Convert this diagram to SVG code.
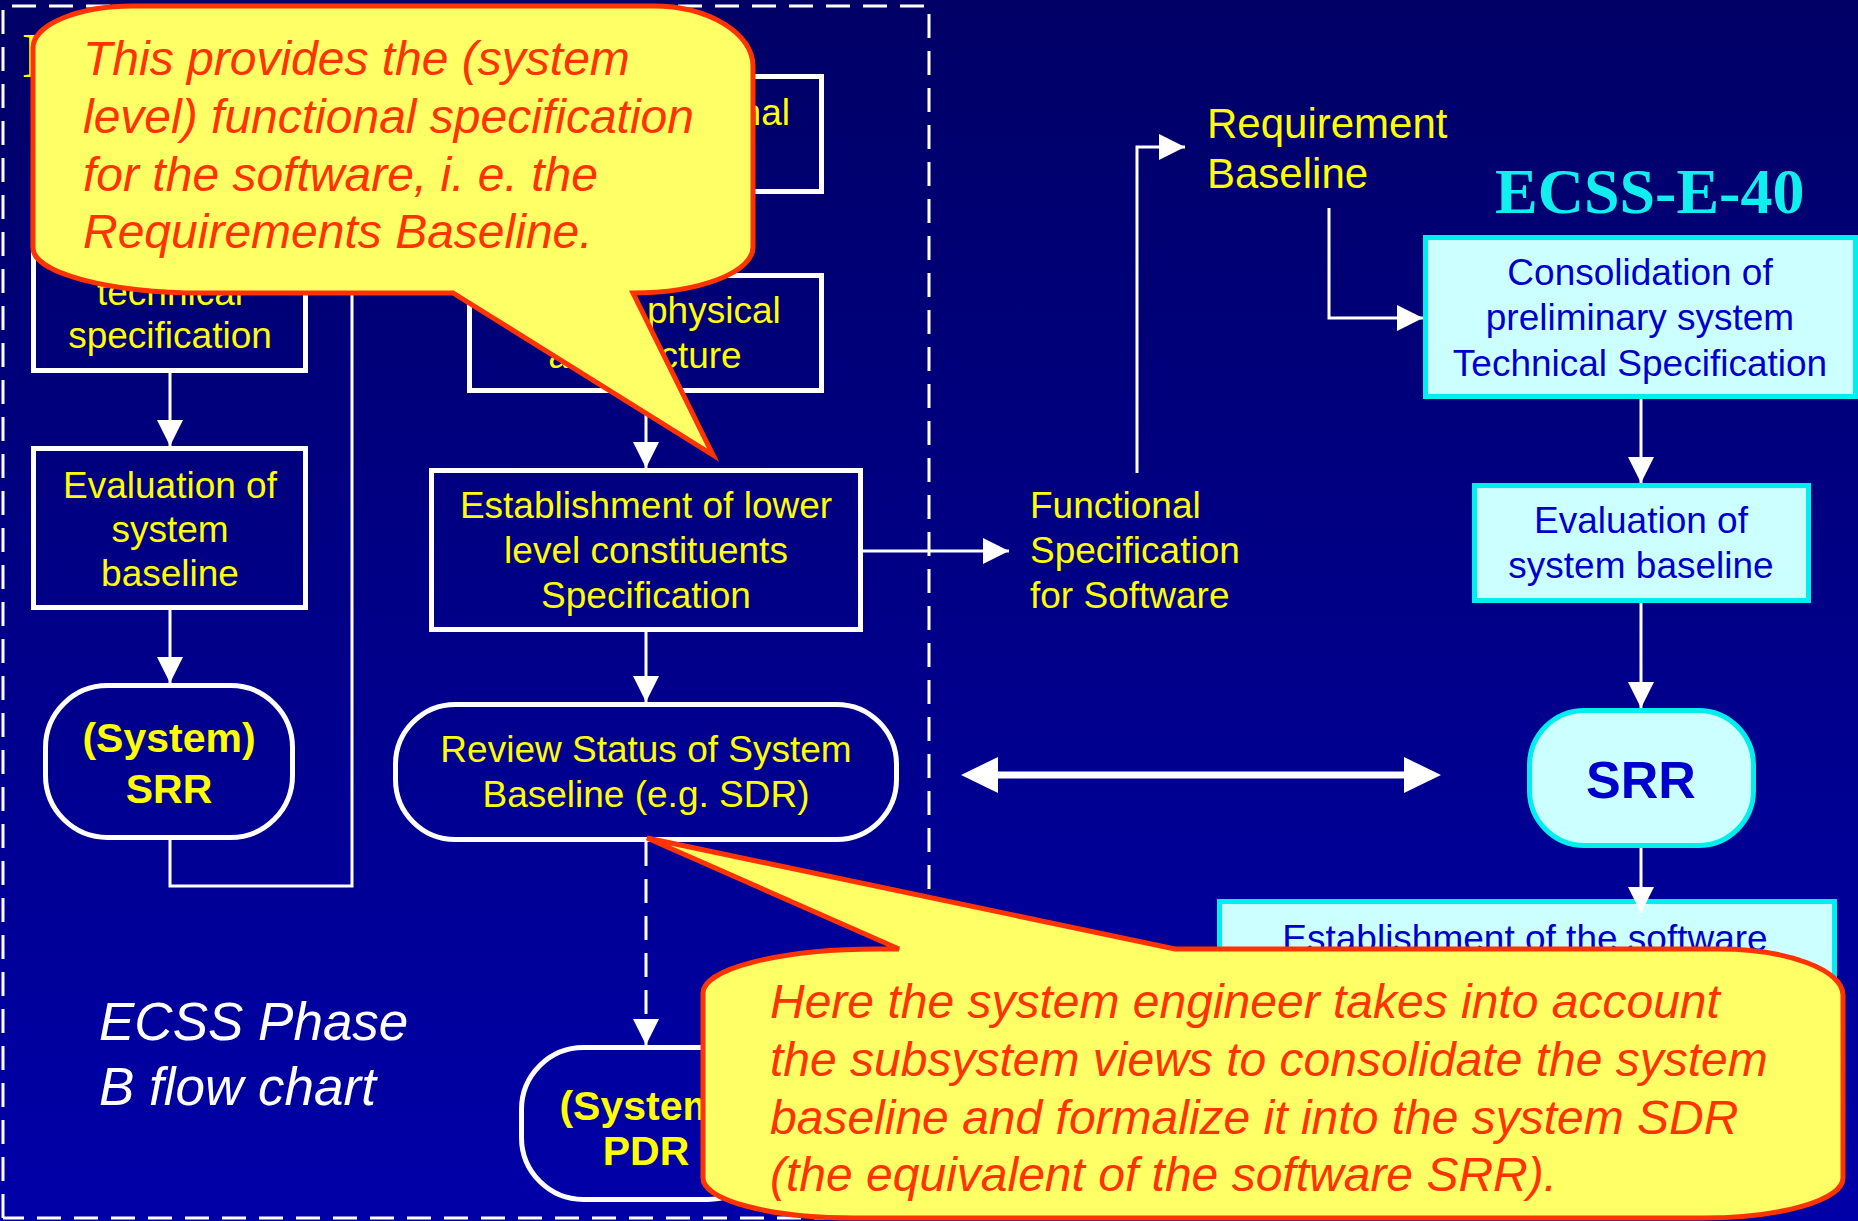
<svg xmlns="http://www.w3.org/2000/svg" width="1858" height="1221" viewBox="0 0 1858 1221">
<defs>
<linearGradient id="bg" x1="0" y1="0" x2="0" y2="1">
<stop offset="0" stop-color="#000066"/>
<stop offset="1" stop-color="#0000A8"/>
</linearGradient>
<marker id="ah" markerUnits="userSpaceOnUse" markerWidth="26" markerHeight="26" viewBox="0 0 26 26" refX="26" refY="13" orient="auto"><path d="M0,0 L26,13 L0,26 Z" fill="#ffffff"/></marker>
<style>
.box{fill:none;stroke:#ffffff;stroke-width:5}
.cbox{fill:#CCFFFF;stroke:#00EEEE;stroke-width:5}
.t{font-family:"Liberation Sans",Arial,sans-serif;font-size:37px;fill:#FFFF00;text-anchor:middle}
.s{text-anchor:start}
.e{text-anchor:end}
.b{font-weight:bold;font-size:41px}
.big{font-size:42px}
.srr{font-size:52px;font-weight:bold}
.blue{fill:#0000CC}
.call{fill:#FFFF66;stroke:#FF3300;stroke-width:5;stroke-linejoin:miter}
.ct{font-family:"Liberation Sans",Arial,sans-serif;font-size:48px;font-style:italic;fill:#FF3300}
.ln{stroke:#ffffff;stroke-width:3;fill:none}
.arr{marker-end:url(#ah)}
</style>
</defs>
<rect x="0" y="0" width="1858" height="1221" fill="url(#bg)"/>
<text x="22" y="77" font-family="Liberation Serif,serif" font-size="64" fill="#FFFF00">E</text>
<path d="M3,1218 V6 H929 V1218 H3" fill="none" stroke="#ffffff" stroke-width="3" stroke-dasharray="24 13"/>

<g id="connectors">
<path class="ln arr" d="M170,373 V446"/>
<path class="ln arr" d="M170,610 V683"/>
<path class="ln" d="M170,840 V886 H352 V230"/>
<path class="ln arr" d="M646,393 V468"/>
<path class="ln arr" d="M646,632 V702"/>
<path class="ln arr" d="M646,842 V1045" stroke-dasharray="24 13"/>
<path class="ln arr" d="M863,551 H1009"/>
<path class="ln arr" d="M1137,473 V147 H1185"/>
<path class="ln arr" d="M1329,208 V318 H1423"/>
<path class="ln arr" d="M1641,399 V483"/>
<path class="ln arr" d="M1641,603 V708"/>
<polygon fill="#ffffff" points="961,775 998,757 998,771.5 1404,771.5 1404,757 1441,775 1404,793 1404,778.5 998,778.5 998,793"/>
</g>

<g id="n-top">
<rect class="box" x="469.5" y="76.5" width="352" height="115"/>
<text class="t e" x="790" y="125">nal</text>
</g>
<g id="n-techspec">
<rect class="box" x="33.5" y="200" width="272" height="170.5"/>
<text class="t" x="170" y="305">technical</text>
<text class="t" x="170" y="348">specification</text>
</g>
<g id="n-physical">
<rect class="box" x="469.5" y="275.5" width="352" height="115"/>
<text class="t s" x="647" y="323">physical</text>
<text class="t" x="645" y="368">architecture</text>
</g>
<g id="n-eval-left">
<rect class="box" x="33.5" y="448.5" width="272" height="159"/>
<text class="t" x="170" y="498">Evaluation of</text>
<text class="t" x="170" y="542">system</text>
<text class="t" x="170" y="586">baseline</text>
</g>
<g id="n-srr-left">
<rect class="box" x="45.5" y="685.5" width="247" height="152" rx="62" ry="62"/>
<text class="t b" x="169" y="752">(System)</text>
<text class="t b" x="169" y="803">SRR</text>
</g>
<g id="n-establish">
<rect class="box" x="431.5" y="470.5" width="429" height="159"/>
<text class="t" x="646" y="518">Establishment of lower</text>
<text class="t" x="646" y="563">level constituents</text>
<text class="t" x="646" y="608">Specification</text>
</g>
<g id="n-review">
<rect class="box" x="395.5" y="704.5" width="501" height="135" rx="60" ry="60"/>
<text class="t" x="646" y="762">Review Status of System</text>
<text class="t" x="646" y="807">Baseline (e.g. SDR)</text>
</g>
<g id="n-pdr">
<rect class="box" x="521.5" y="1047.5" width="248" height="152" rx="62" ry="62"/>
<text class="t b" x="646" y="1120">(System)</text>
<text class="t b" x="646" y="1165">PDR</text>
</g>
<g id="l-phase">
<text x="99" y="1040" font-family="Liberation Sans,Arial,sans-serif" font-size="53" font-style="italic" fill="#ffffff">ECSS Phase</text>
<text x="99" y="1105" font-family="Liberation Sans,Arial,sans-serif" font-size="53" font-style="italic" fill="#ffffff">B flow chart</text>
</g>
<g id="l-funcspec">
<text class="t s" x="1030" y="518">Functional</text>
<text class="t s" x="1030" y="563">Specification</text>
<text class="t s" x="1030" y="608">for Software</text>
</g>
<g id="l-reqbase">
<text class="t s big" x="1207" y="138">Requirement</text>
<text class="t s big" x="1207" y="188">Baseline</text>
</g>
<g id="l-ecss40">
<text x="1495" y="213" font-family="Liberation Serif,'Times New Roman',serif" font-size="64" font-weight="bold" fill="#11EEEE">ECSS-E-40</text>
</g>
<g id="n-consolidation">
<rect class="cbox" x="1425.5" y="237.5" width="430" height="159"/>
<text class="t blue" x="1640" y="285">Consolidation of</text>
<text class="t blue" x="1640" y="330">preliminary system</text>
<text class="t blue" x="1640" y="376">Technical Specification</text>
</g>
<g id="n-eval-right">
<rect class="cbox" x="1474.5" y="485.5" width="334" height="115"/>
<text class="t blue" x="1641" y="533">Evaluation of</text>
<text class="t blue" x="1641" y="578">system baseline</text>
</g>
<g id="n-srr-right">
<rect class="cbox" x="1529.5" y="710.5" width="224" height="135" rx="55" ry="55"/>
<text class="t blue srr" x="1641" y="798">SRR</text>
</g>
<g id="n-sw-establish">
<rect class="cbox" x="1219.5" y="901.5" width="615" height="250"/>
<text class="t blue" x="1525" y="951">Establishment of the software</text>
</g>
<path class="ln arr" d="M1641,848 V913"/>

<g id="callout-1">
<path class="call" d="M133,6 H653 A100 60 0 0 1 753,66 V247 A120 46 0 0 1 633,293 L713,455 L453,293 H203 A170 45 0 0 1 33,248 V48 A100 42 0 0 1 133,6 Z"/>
<text class="ct" x="83" y="75">This provides the (system</text>
<text class="ct" x="83" y="133">level) functional specification</text>
<text class="ct" x="83" y="191">for the software, i. e. the</text>
<text class="ct" x="83" y="248">Requirements Baseline.</text>
</g>
<g id="callout-2">
<path class="call" d="M877,949 H899 L647,838 L1175,949 H1718 A125 46 0 0 1 1843,995 V1178 A140 40 0 0 1 1703,1218 H853 A150 40 0 0 1 703,1178 V993 A174 44 0 0 1 877,949 Z"/>
<text class="ct" x="770" y="1018">Here the system engineer takes into account</text>
<text class="ct" x="770" y="1076">the subsystem views to consolidate the system</text>
<text class="ct" x="770" y="1134">baseline and formalize it into the system SDR</text>
<text class="ct" x="770" y="1191">(the equivalent of the software SRR).</text>
</g>
</svg>
